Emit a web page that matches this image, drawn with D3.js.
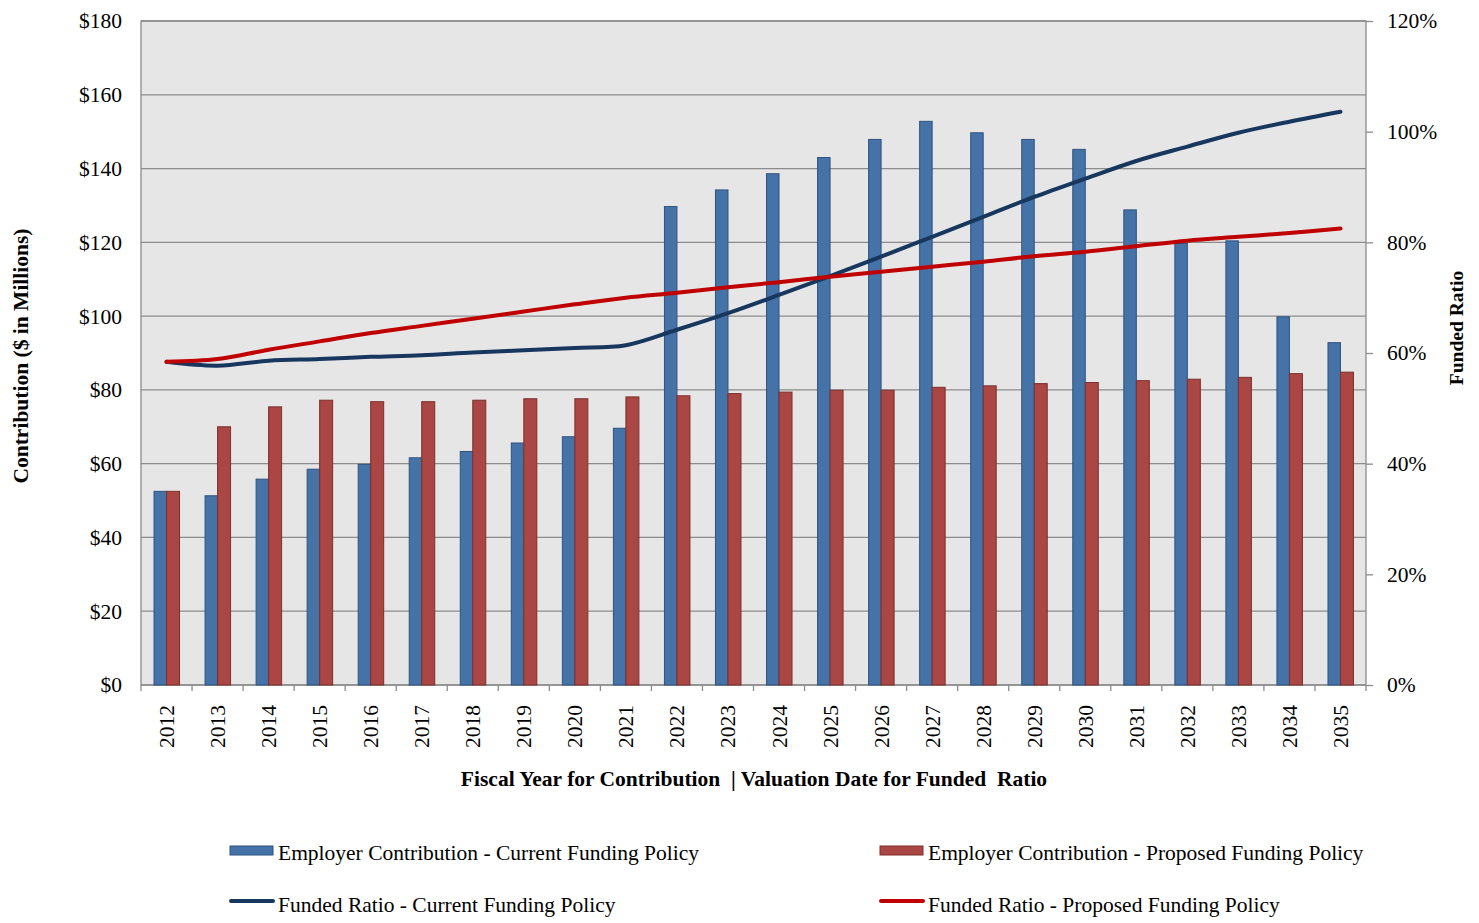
<!DOCTYPE html>
<html>
<head>
<meta charset="utf-8">
<script src="https://cdn.jsdelivr.net/npm/d3@7"></script>
<style>
  body { margin: 0; background: #fff; }
  svg { display: block; font-family: "Liberation Serif", "Times New Roman", serif; }
</style>
</head>
<body>
<svg id="chart" width="1479" height="923"></svg>
<script>
const years = ["2012","2013","2014","2015","2016","2017","2018","2019","2020","2021","2022","2023","2024","2025","2026","2027","2028","2029","2030","2031","2032","2033","2034","2035"];
const contribCurrent = [52.5,51.3,55.8,58.5,59.8,61.6,63.3,65.6,67.3,69.6,129.7,134.2,138.6,143.0,147.9,152.8,149.7,147.9,145.2,128.8,119.7,120.4,99.8,92.8];
const contribProposed = [52.5,70.0,75.4,77.2,76.8,76.8,77.2,77.6,77.6,78.1,78.4,79.0,79.4,79.9,79.9,80.7,81.1,81.7,82.0,82.5,82.9,83.4,84.4,84.8];
const ratioCurrent = [58.4,57.7,58.6,58.9,59.3,59.6,60.1,60.5,60.9,61.4,64.2,67.2,70.5,73.9,77.4,81.0,84.6,88.2,91.5,94.7,97.3,99.8,101.8,103.6];
const ratioProposed = [58.4,58.9,60.6,62.1,63.6,64.9,66.2,67.5,68.8,70.0,70.9,71.9,72.8,73.8,74.7,75.6,76.5,77.5,78.3,79.3,80.3,81.0,81.7,82.5];
const leftTicks = [0,20,40,60,80,100,120,140,160,180];
const rightTicks = [0,20,40,60,80,100,120];
const legendLabels = ["Employer Contribution - Current Funding Policy","Employer Contribution - Proposed Funding Policy","Funded Ratio - Current Funding Policy","Funded Ratio - Proposed Funding Policy"];

const C = { blue:"#4572a7", blueStroke:"#2f5381", red:"#aa4643", redStroke:"#7d2f2d", lineBlue:"#17375e", lineRed:"#c00000", grid:"#8c8c8c", bg:"#e6e6e6" };
const FS = 21.5;

const svg = d3.select("#chart");
const L = 141, R = 1366, T = 21, B = 685;

const x = d3.scaleBand().domain(years).range([L, R]);
const yL = d3.scaleLinear().domain([0,180]).range([B, T]);
const yR = d3.scaleLinear().domain([0,120]).range([B, T]);

// background
svg.append("rect").attr("x", L).attr("y", T).attr("width", R-L).attr("height", B-T).attr("fill", C.bg);

// gridlines
svg.append("g").selectAll("line").data(leftTicks).join("line")
  .attr("x1", L).attr("x2", R).attr("y1", d => yL(d)).attr("y2", d => yL(d))
  .attr("stroke", C.grid).attr("stroke-width", 1.3);

// border
svg.append("rect").attr("x", L).attr("y", T).attr("width", R-L).attr("height", B-T)
  .attr("fill", "none").attr("stroke", C.grid).attr("stroke-width", 1.3);

// bars
const bw = 12.5;
svg.append("g").selectAll("rect").data(years).join("rect")
  .attr("x", d => x(d) + x.bandwidth()/2 - bw)
  .attr("y", (d,i) => yL(contribCurrent[i]))
  .attr("width", bw)
  .attr("height", (d,i) => B - yL(contribCurrent[i]))
  .attr("fill", C.blue).attr("stroke", C.blueStroke).attr("stroke-width", 1);
svg.append("g").selectAll("rect").data(years).join("rect")
  .attr("x", d => x(d) + x.bandwidth()/2)
  .attr("y", (d,i) => yL(contribProposed[i]))
  .attr("width", bw+0.5)
  .attr("height", (d,i) => B - yL(contribProposed[i]))
  .attr("fill", C.red).attr("stroke", C.redStroke).attr("stroke-width", 1);

// lines
const line = d3.line().x((d,i) => x(years[i]) + x.bandwidth()/2).y(d => yR(d)).curve(d3.curveCatmullRom.alpha(0.5));
svg.append("path").datum(ratioCurrent).attr("d", line).attr("fill","none").attr("stroke", C.lineBlue).attr("stroke-width", 4).attr("stroke-linecap","round");
svg.append("path").datum(ratioProposed).attr("d", line).attr("fill","none").attr("stroke", C.lineRed).attr("stroke-width", 4).attr("stroke-linecap","round");

// left axis
const gl = svg.append("g").attr("transform", `translate(${L},0)`)
  .call(d3.axisLeft(yL).tickValues(leftTicks).tickSize(0).tickPadding(19).tickFormat(d => "$" + d));
gl.select(".domain").remove();
gl.selectAll("text").attr("font-family","Liberation Serif, serif").attr("font-size", FS).attr("fill","#000");

// right axis
const gr = svg.append("g").attr("transform", `translate(${R},0)`)
  .call(d3.axisRight(yR).tickValues(rightTicks).tickSize(7).tickPadding(14).tickFormat(d => d + "%"));
gr.select(".domain").remove();
gr.selectAll("line").attr("stroke", C.grid).attr("stroke-width", 1.3);
gr.selectAll("text").attr("font-family","Liberation Serif, serif").attr("font-size", FS).attr("fill","#000");

// x axis ticks at band boundaries
const bounds = years.map(d => x(d)).concat([R]);
svg.append("g").selectAll("line").data(bounds).join("line")
  .attr("x1", d => d).attr("x2", d => d).attr("y1", B).attr("y2", B + 6)
  .attr("stroke", C.grid).attr("stroke-width", 1.3);

svg.append("g").selectAll("text").data(years).join("text")
  .attr("transform", d => `translate(${x(d) + x.bandwidth()/2 + 7.5},${B + 20}) rotate(-90)`)
  .attr("text-anchor", "end")
  .attr("font-size", FS).attr("fill", "#000")
  .text(d => d);

// axis titles
svg.append("text").attr("x", 754).attr("y", 786).attr("text-anchor","middle")
  .attr("font-size", FS).attr("font-weight","bold").attr("fill","#000")
  .attr("xml:space","preserve")
  .text("Fiscal Year for Contribution  | Valuation Date for Funded  Ratio");
svg.append("text").attr("transform", "translate(28,356) rotate(-90)").attr("text-anchor","middle")
  .attr("font-size", FS).attr("font-weight","bold").attr("fill","#000")
  .text("Contribution ($ in Millions)");
svg.append("text").attr("transform", "translate(1463,328) rotate(-90)").attr("text-anchor","middle")
  .attr("font-size", 19.5).attr("font-weight","bold").attr("fill","#000")
  .text("Funded Ratio");

// legend
const legend = [
  { label: legendLabels[0], type: "bar", fill: C.blue, stroke: C.blueStroke, x: 230, y: 853 },
  { label: legendLabels[1], type: "bar", fill: C.red, stroke: C.redStroke, x: 880, y: 853 },
  { label: legendLabels[2], type: "line", stroke: C.lineBlue, x: 230, y: 905 },
  { label: legendLabels[3], type: "line", stroke: C.lineRed, x: 880, y: 905 }
];
const lg = svg.append("g").selectAll("g").data(legend).join("g");
lg.each(function(d) {
  const g = d3.select(this);
  if (d.type === "bar") {
    g.append("rect").attr("x", d.x).attr("y", d.y - 7).attr("width", 43).attr("height", 9)
      .attr("fill", d.fill).attr("stroke", d.stroke).attr("stroke-width", 1);
  } else {
    g.append("line").attr("x1", d.x + 1).attr("x2", d.x + 43).attr("y1", d.y - 4).attr("y2", d.y - 4)
      .attr("stroke", d.stroke).attr("stroke-width", 4).attr("stroke-linecap","round");
  }
  g.append("text").attr("x", d.x + 48).attr("y", d.y + 7).attr("font-size", FS).attr("fill", "#000").text(d.label);
});
</script>
</body>
</html>
